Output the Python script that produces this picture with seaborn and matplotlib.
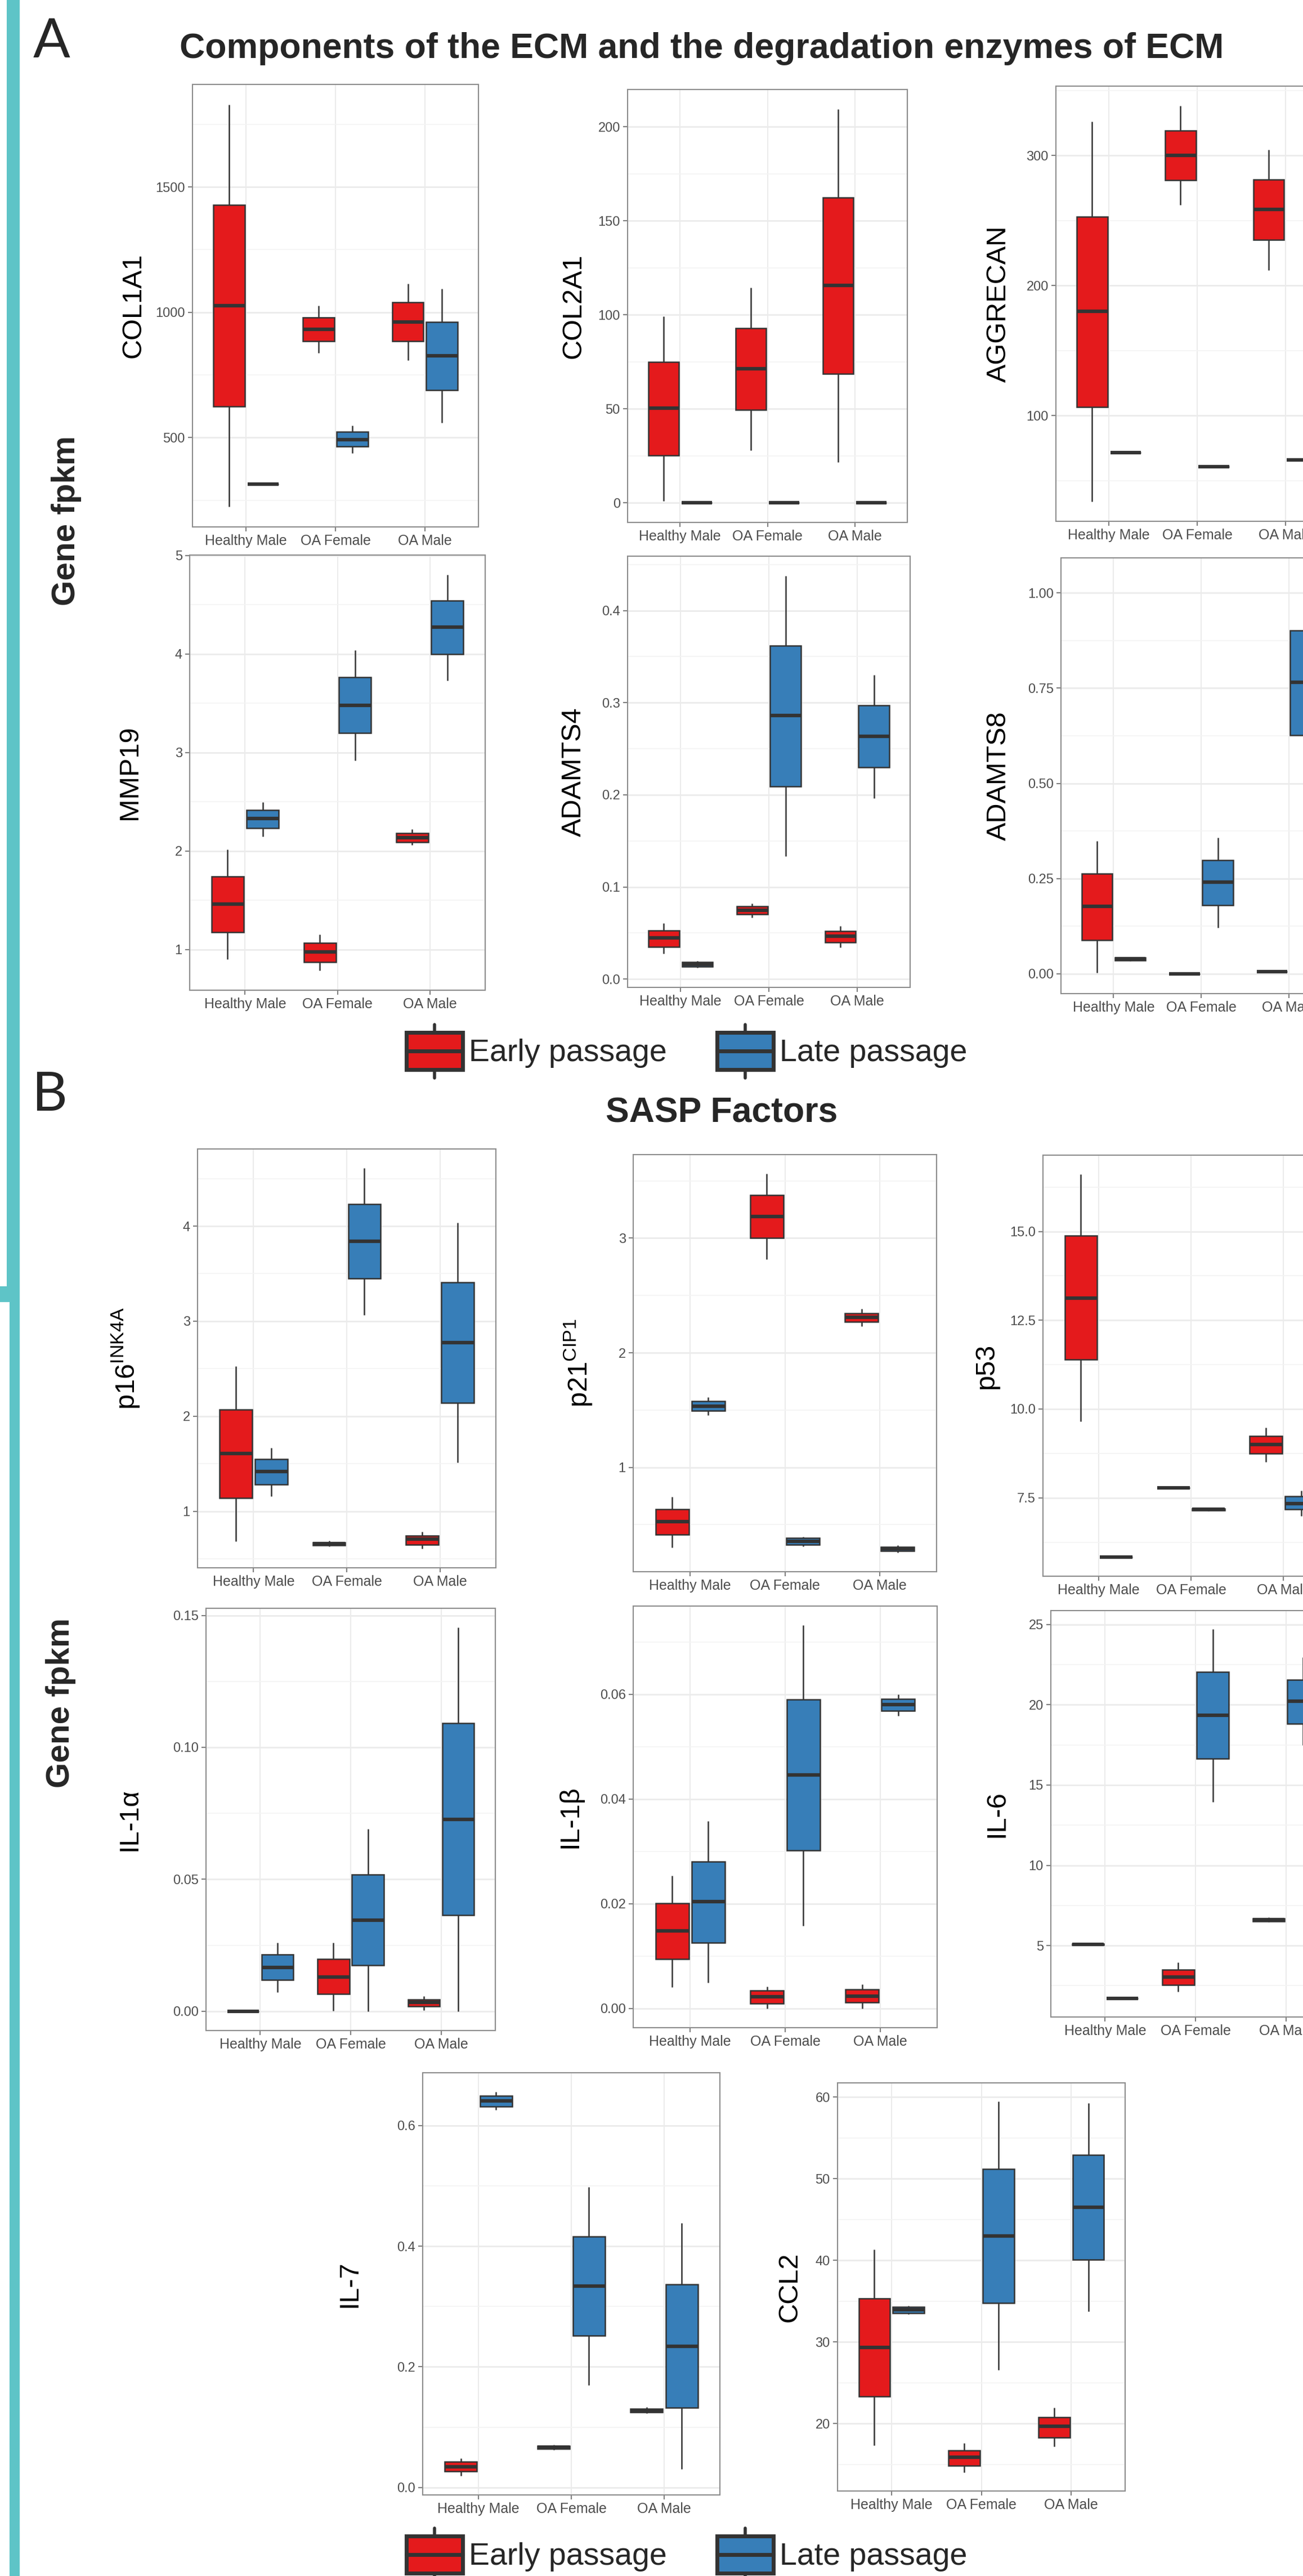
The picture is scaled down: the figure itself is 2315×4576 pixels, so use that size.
import numpy as np
import pandas as pd
import seaborn as sns
import matplotlib.pyplot as plt
from matplotlib.ticker import MultipleLocator, FormatStrFormatter
from matplotlib.patches import Rectangle, Patch
from matplotlib.lines import Line2D
from matplotlib.legend_handler import HandlerBase

groups = ["Healthy Male", "OA Female", "OA Male"]
passages = ["Early passage", "Late passage"]

# five-number summaries per group: low whisker, Q1, median, Q3, high whisker
col1a1_early = [[224, 625, 1027, 1428, 1829], [837, 885, 932, 980, 1027], [809, 885, 962, 1039, 1114]]
col1a1_late = [[314] * 5, [439, 466, 493, 523, 549], [559, 690, 826, 962, 1094]]

col2a1_early = [[0.8, 25.2, 50.3, 75.0, 99.3], [27.9, 49.4, 71.3, 92.8, 114.5], [21.7, 68.7, 115.7, 162.4, 209.4]]
col2a1_late = [[0] * 5, [0] * 5, [0] * 5]

aggrecan_early = [[33.9, 106.6, 180, 253.1, 326], [262, 281, 300, 319.2, 338.2], [212, 235, 258.5, 281.5, 304.5]]
aggrecan_late = [[71.6] * 5, [60.6] * 5, [66] * 5]

mmp19_early = [[0.90, 1.176, 1.464, 1.744, 2.017], [0.789, 0.876, 0.976, 1.066, 1.152], [2.062, 2.093, 2.138, 2.18, 2.221]]
mmp19_late = [[2.149, 2.232, 2.329, 2.419, 2.498], [2.917, 3.197, 3.481, 3.765, 4.04], [3.73, 3.997, 4.27, 4.54, 4.803]]

adamts4_early = [[0.0278, 0.0352, 0.0444, 0.0526, 0.0604], [0.0667, 0.0704, 0.0748, 0.0789, 0.0822], [0.0344, 0.0396, 0.0463, 0.0519, 0.0574]]
adamts4_late = [[0.0122, 0.0133, 0.016, 0.0185, 0.0196], [0.1333, 0.2093, 0.2859, 0.3619, 0.4378], [0.1963, 0.2296, 0.2637, 0.297, 0.3304]]

adamts8_early = [[0.0024, 0.0887, 0.1767, 0.263, 0.3485], [0] * 5, [0.0056] * 5]
adamts8_late = [[0.034, 0.035, 0.039, 0.043, 0.044], [0.1207, 0.1799, 0.2406, 0.299, 0.358], [0.49, 0.627, 0.765, 0.902, 1.04]]

p16_early = [[0.683, 1.139, 1.608, 2.071, 2.528], [0.63, 0.645, 0.659, 0.672, 0.69], [0.606, 0.647, 0.706, 0.742, 0.783]]
p16_late = [[1.157, 1.28, 1.419, 1.549, 1.668], [3.062, 3.45, 3.84, 4.23, 4.611], [1.513, 2.143, 2.777, 3.41, 4.036]]

p21_early = [[0.30, 0.412, 0.525, 0.637, 0.745], [2.818, 3.0, 3.187, 3.378, 3.564], [2.23, 2.269, 2.31, 2.343, 2.382]]
p21_late = [[1.456, 1.495, 1.534, 1.578, 1.613], [0.309, 0.324, 0.353, 0.382, 0.392], [0.255, 0.27, 0.289, 0.304, 0.318]]

p53_early = [[9.65, 11.39, 13.13, 14.88, 16.61], [7.78] * 5, [8.51, 8.74, 9.0, 9.24, 9.47]]
p53_late = [[5.83] * 5, [7.13, 7.15, 7.17, 7.19, 7.21], [6.99, 7.17, 7.34, 7.54, 7.70]]

il1a_early = [[0] * 5, [0.0001, 0.0065, 0.013, 0.0198, 0.0261], [0.0004, 0.0018, 0.0034, 0.0045, 0.0058]]
il1a_late = [[0.0072, 0.012, 0.0167, 0.0215, 0.0261], [0, 0.0174, 0.0346, 0.0518, 0.069], [0, 0.0364, 0.0728, 0.1091, 0.1454]]

il1b_early = [[0.0041, 0.0095, 0.0148, 0.0201, 0.0254], [0, 0.001, 0.0023, 0.0034, 0.0042], [0, 0.0012, 0.0024, 0.0036, 0.0046]]
il1b_late = [[0.0049, 0.0126, 0.0204, 0.0281, 0.0358], [0.0158, 0.0302, 0.0446, 0.059, 0.0732], [0.0559, 0.0569, 0.0581, 0.0591, 0.060]]

il6_early = [[5.0, 5.03, 5.07, 5.12, 5.15], [2.12, 2.55, 3.03, 3.5, 3.94], [6.47, 6.5, 6.6, 6.7, 6.75]]
il6_late = [[1.70] * 5, [13.94, 16.65, 19.35, 22.04, 24.72], [17.49, 18.83, 20.24, 21.57, 22.95]]

il7_early = [[0.0194, 0.0267, 0.0347, 0.0426, 0.0487], [0.062, 0.064, 0.067, 0.069, 0.071], [0.123, 0.125, 0.127, 0.130, 0.133]]
il7_late = [[0.6256, 0.6317, 0.6403, 0.6488, 0.6556], [0.1696, 0.252, 0.3338, 0.4156, 0.498], [0.0304, 0.1324, 0.2343, 0.3369, 0.4382]]

ccl2_early = [[17.29, 23.29, 29.33, 35.33, 41.29], [14.0, 14.81, 15.85, 16.71, 17.61], [17.16, 18.29, 19.64, 20.77, 21.94]]
ccl2_late = [[33.39, 33.53, 33.93, 34.3, 34.43], [26.54, 34.75, 43.0, 51.21, 59.46], [33.75, 40.07, 46.52, 52.92, 59.23]]

W, H = 2315, 4576
colors = {"Early passage": "#E41A1C", "Late passage": "#377EB8"}
EDGE = "#333333"
TEAL = "#5EC4C7"

sns.set_style("white")
plt.rcParams['font.family'] = ['Liberation Sans', 'DejaVu Sans']
plt.rcParams['mathtext.fontset'] = 'custom'
plt.rcParams['mathtext.rm'] = 'Liberation Sans'

# name, early, late, (left, right, top, bottom) in px, tick step, decimals, label offset px
panels = [
    ("COL1A1", col1a1_early, col1a1_late, (342, 850, 150, 936), 500, 0, 82),
    ("COL2A1", col2a1_early, col2a1_late, (1115, 1612, 159, 928), 50, 0, 73),
    ("AGGRECAN", aggrecan_early, aggrecan_late, (1876, 2378, 153, 926), 100, 0, 79),
    ("MMP19", mmp19_early, mmp19_late, (337, 862, 986, 1759), 1, 0, 84),
    ("ADAMTS4", adamts4_early, adamts4_late, (1115, 1617, 988, 1754), 0.1, 1, 73),
    ("ADAMTS8", adamts8_early, adamts8_late, (1885, 2383, 991, 1765), 0.25, 2, 88),
    (r"p16$^{\mathrm{INK4A}}$", p16_early, p16_late, (351, 881, 2041, 2785), 1, 0, 100),
    (r"p21$^{\mathrm{CIP1}}$", p21_early, p21_late, (1125, 1664, 2051, 2792), 1, 0, 69),
    ("p53", p53_early, p53_late, (1853, 2379, 2052, 2800), 2.5, 1, 78),
    ("IL-1α", il1a_early, il1a_late, (366, 880, 2857, 3607), 0.05, 2, 113),
    ("IL-1β", il1b_early, il1b_late, (1125, 1665, 2853, 3602), 0.02, 2, 90),
    ("IL-6", il6_early, il6_late, (1867, 2381, 2861, 3583), 5, 0, 74),
    ("IL-7", il7_early, il7_late, (751, 1279, 3682, 4432), 0.2, 1, 107),
    ("CCL2", ccl2_early, ccl2_late, (1488, 1999, 3700, 4425), 10, 0, 62),
]


class BoxKey(HandlerBase):
    def create_artists(self, legend, orig, xd, yd, w, h, fs, trans):
        x0, y0 = -xd, -yd
        cx = x0 + w / 2
        whisk = Line2D([cx, cx], [y0 - 0.22 * h, y0 + 1.22 * h], color=EDGE, lw=4, transform=trans)
        box = Rectangle((x0, y0), w, h, facecolor=orig.get_facecolor(), edgecolor=EDGE, lw=5, transform=trans)
        med = Line2D([x0, x0 + w], [y0 + h / 2] * 2, color=EDGE, lw=5, transform=trans)
        return [whisk, box, med]


def draw_panel(fig, name, early, late, rect, step, decimals, lab_off):
    l, r, t, b = rect
    ax = fig.add_axes([l / W, 1 - b / H, (r - l) / W, (b - t) / H])
    rows = []
    for passage, series in zip(passages, [early, late]):
        for g, vals in zip(groups, series):
            rows += [(g, passage, v) for v in vals]
    df = pd.DataFrame(rows, columns=["group", "passage", "value"])
    sns.boxplot(data=df, x="group", y="value", hue="passage", order=groups, hue_order=passages,
                palette=colors, saturation=1, width=0.76, gap=0.08, whis=(0, 100),
                showcaps=False, linecolor=EDGE, linewidth=1.8, fliersize=0,
                medianprops={"linewidth": 4.5}, legend=False, ax=ax)
    v = df["value"]
    span = v.max() - v.min()
    ax.set_ylim(v.min() - 0.05 * span, v.max() + 0.05 * span)
    ax.set_xlim(-0.6, 2.6)
    ax.yaxis.set_major_locator(MultipleLocator(step))
    ax.yaxis.set_minor_locator(MultipleLocator(step / 2))
    ax.yaxis.set_major_formatter(FormatStrFormatter("%." + str(decimals) + "f"))
    ax.set_axisbelow(True)
    ax.grid(True, axis="y", which="major", color="#EBEBEB", lw=2)
    ax.grid(True, axis="y", which="minor", color="#F4F4F4", lw=1.2)
    ax.grid(True, axis="x", which="major", color="#EBEBEB", lw=1.5)
    ax.tick_params(axis="both", which="major", length=6, width=1.5, color="#7F7F7F",
                   labelcolor="#4D4D4D", left=True, bottom=True)
    ax.tick_params(axis="x", labelsize=18)
    ax.tick_params(axis="y", labelsize=17)
    ax.tick_params(which="minor", length=0)
    for s in ax.spines.values():
        s.set_color("#8C8C8C")
        s.set_linewidth(1.5)
    ax.set_xlabel("")
    ax.set_ylabel(name, fontsize=35, color="black")
    ax.yaxis.set_label_coords(-lab_off / (r - l), 0.5)
    return ax


fig = plt.figure(figsize=(W / 100, H / 100), dpi=100)
fig.patch.set_facecolor("white")

# teal bracket on the left edge
fig.add_artist(Rectangle((12 / W, 1 - 2290 / H), 23 / W, 2290 / H, transform=fig.transFigure, color=TEAL, lw=0))
fig.add_artist(Rectangle((0, 1 - 2313 / H), 35 / W, 28 / H, transform=fig.transFigure, color=TEAL, lw=0))
fig.add_artist(Rectangle((17 / W, 0), 18 / W, 1 - 2313 / H, transform=fig.transFigure, color=TEAL, lw=0))

for p in panels:
    draw_panel(fig, *p)

fig.text(1247 / W, 1 - 86 / H, "Components of the ECM and the degradation enzymes of ECM",
         fontsize=45, weight="bold", ha="center", va="center")
fig.text(1282 / W, 1 - 1977 / H, "SASP Factors", fontsize=45, weight="bold", ha="center", va="center")
for lab, x, y in [("A", 92, 75), ("B", 88, 1946)]:
    fig.text(x / W, 1 - y / H, lab, fontsize=70, ha="center", va="center",
             family=["Lato", "DejaVu Sans"], weight="normal")
for x, y in [(118, 925), (108, 3025)]:
    fig.text(x / W, 1 - y / H, "Gene fpkm", fontsize=42, weight="bold", rotation=90,
             ha="center", va="center")

handles = [Patch(facecolor=colors[p]) for p in passages]
for y in [1867, 4538]:
    fig.legend(handles, passages, handler_map={Patch: BoxKey()}, loc="center left",
               bbox_to_anchor=(694 / W, 1 - y / H), ncol=2, frameon=False, fontsize=40,
               borderpad=0, handlelength=1.8, handleheight=1.45, handletextpad=0.2,
               columnspacing=1.6)

fig.savefig("out.png", dpi=100)
